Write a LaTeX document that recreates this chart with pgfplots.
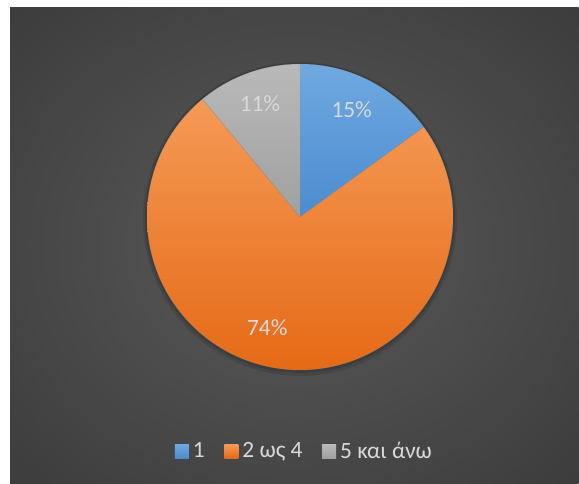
\documentclass[border=0pt]{standalone}
\usepackage{pgfplots}
\pgfplotsset{compat=1.18}
\usepackage{pgfplotstable}
\usepackage{fontspec}
\setmainfont{Carlito}
\definecolor{bgin}{HTML}{5A5A5A}
\definecolor{bgout}{HTML}{262626}
\definecolor{blueT}{HTML}{70A9E1}
\definecolor{blueB}{HTML}{4B8BCF}
\definecolor{orT}{HTML}{F59A56}
\definecolor{orB}{HTML}{E56A16}
\definecolor{grT}{HTML}{B9B9B9}
\definecolor{grB}{HTML}{A0A0A0}
\definecolor{txt}{HTML}{D9D9D9}
\pgfdeclareradialshading{bgshade}{\pgfpoint{0bp}{0bp}}{color(0bp)=(bgin); color(62bp)=(bgout); color(80bp)=(bgout)}

\pgfplotstableread{
label value
1 15
2 74
3 11
}\piedata
\pgfplotstablegetelem{0}{value}\of\piedata \let\va\pgfplotsretval
\pgfplotstablegetelem{1}{value}\of\piedata \let\vb\pgfplotsretval
\pgfplotstablegetelem{2}{value}\of\piedata \let\vc\pgfplotsretval
\pgfmathsetmacro\aA{90}
\pgfmathsetmacro\aB{\aA-3.6*\va}
\pgfmathsetmacro\aC{\aB-3.6*\vb}
\pgfmathsetmacro\aD{\aC-3.6*\vc}

\begin{document}%
\begin{tikzpicture}
\begin{axis}[
  scale only axis, width=434.25pt, height=362.25pt,
  xmin=0, xmax=579, ymin=0, ymax=483,
  hide axis, clip=false,
  legend columns=3,
  legend image code/.code={\path[#1] (0pt,-5.25pt) rectangle (10.5pt,5.25pt);},
  legend style={at={(0.524,0.066)}, anchor=center, draw=none, fill=none,
    text=txt, font=\fontsize{17.5}{19}\selectfont,
    nodes={inner sep=0pt},
    /tikz/every odd column/.append style={column sep=3pt},
    /tikz/every even column/.append style={column sep=14.8pt}},
]
\fill[white] (0,0) rectangle (579,483);
\shade[shading=bgshade] (10,0) rectangle (578.5,475);
% soft shadow
\addplot[forget plot, draw=none, fill=black, fill opacity=0.10, domain=0:360, samples=145] ({300+157*cos(x)},{264+157*sin(x)}) -- cycle;
\addplot[forget plot, draw=none, fill=black, fill opacity=0.12, domain=0:360, samples=145] ({300+155*cos(x)},{265+155*sin(x)}) -- cycle;
% slices
\addplot[forget plot, draw=black!45, line width=0.3pt, draw opacity=0.5, top color=blueT, bottom color=blueB, domain=\aA:\aB, samples=40] ({300+153*cos(x)},{266+153*sin(x)}) -- (300,266) -- cycle;
\addplot[forget plot, draw=black!45, line width=0.3pt, draw opacity=0.5, top color=orT, bottom color=orB, domain=\aB:\aC, samples=160] ({300+153*cos(x)},{266+153*sin(x)}) -- (300,266) -- cycle;
\addplot[forget plot, draw=black!45, line width=0.3pt, draw opacity=0.5, top color=grT, bottom color=grB, domain=\aC:\aD, samples=30] ({300+153*cos(x)},{266+153*sin(x)}) -- (300,266) -- cycle;
% labels
\node[text=txt, font=\fontsize{17.5}{19}\selectfont] at (351.7,373) {15\%};
\node[text=txt, font=\fontsize{17.5}{19}\selectfont] at (267.3,155) {74\%};
\node[text=txt, font=\fontsize{17.5}{19}\selectfont] at (260,379) {11\%};
\addlegendimage{top color=blueT, bottom color=blueB, draw=none}
\addlegendentry{1}
\addlegendimage{top color=orT, bottom color=orB, draw=none}
\addlegendentry{2 ως 4}
\addlegendimage{top color=grT, bottom color=grB, draw=none}
\addlegendentry{5 και άνω}
\end{axis}
\end{tikzpicture}%
\end{document}
